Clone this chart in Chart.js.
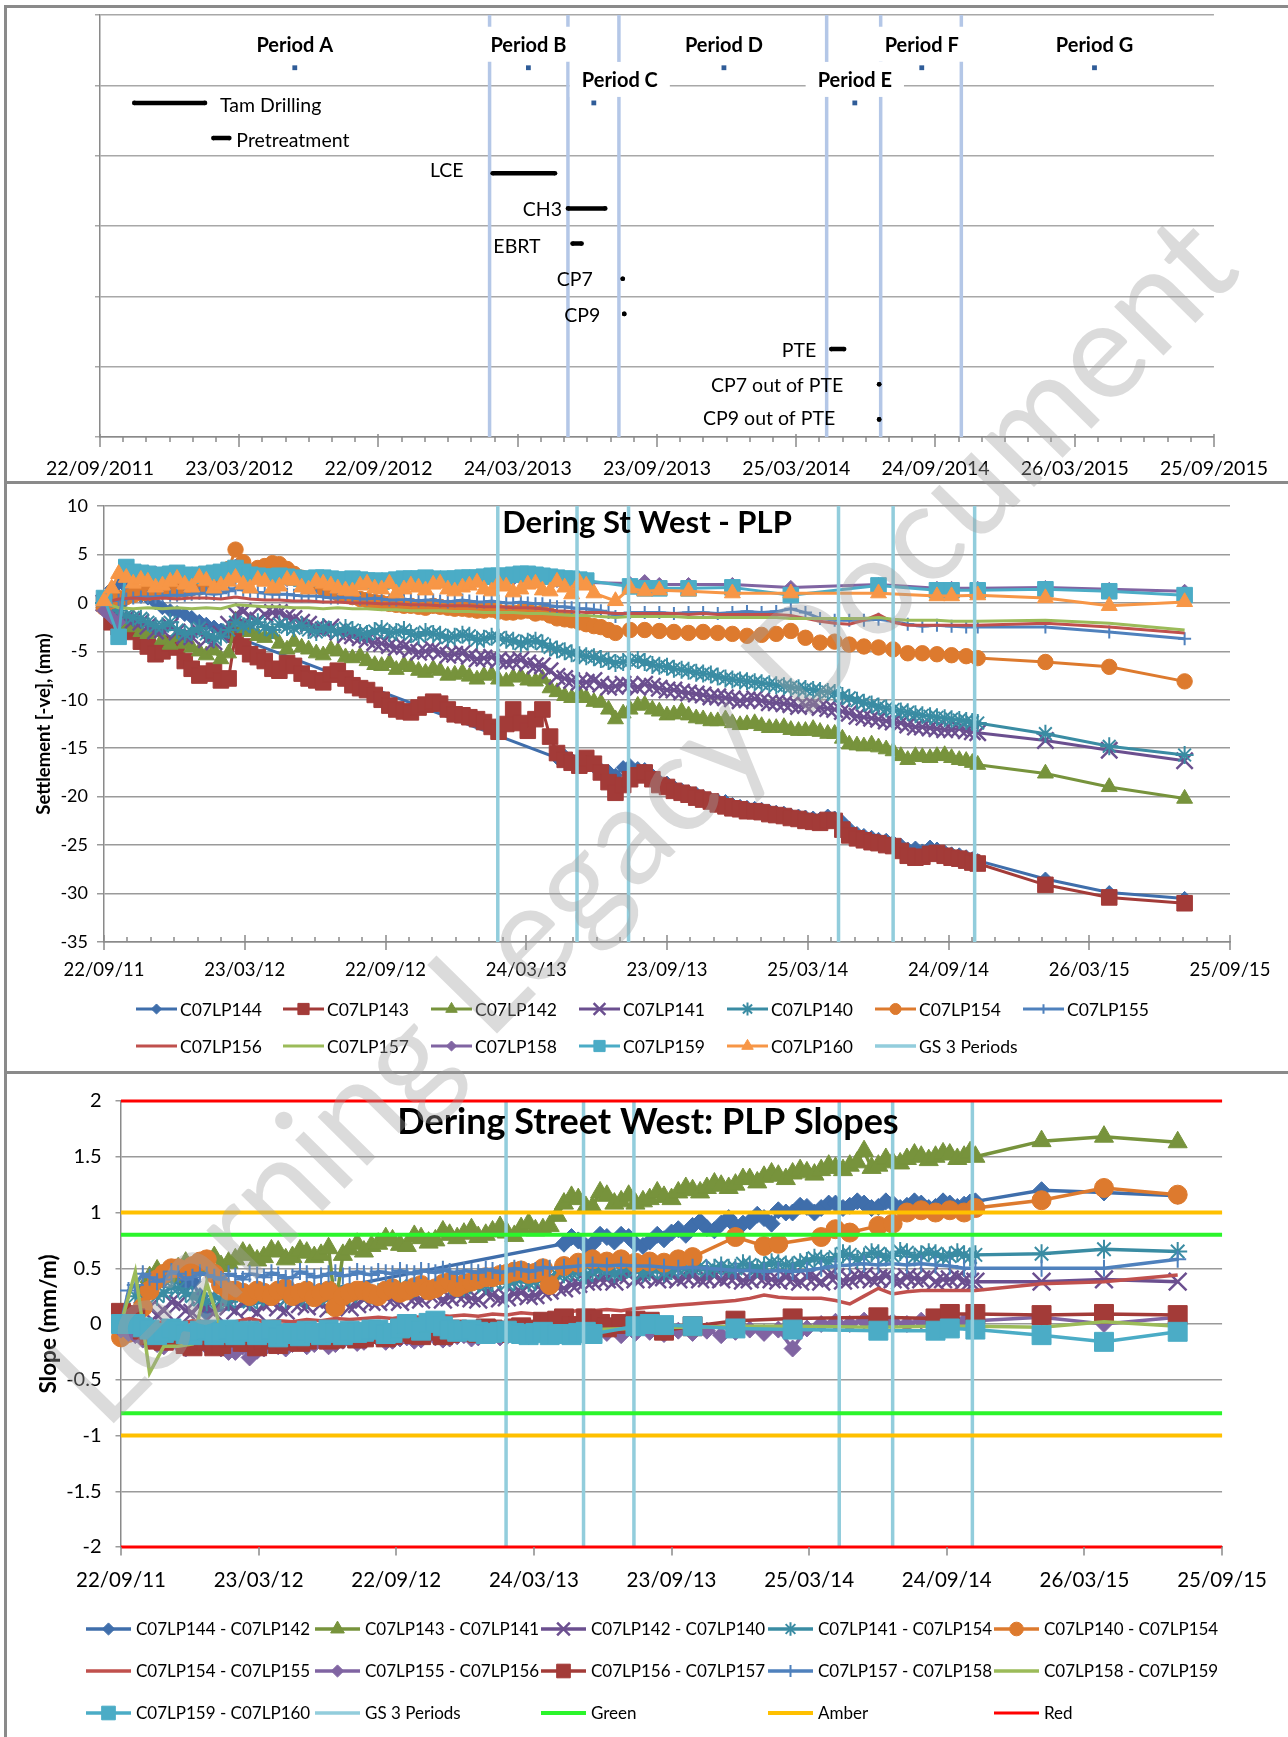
<!DOCTYPE html>
<html>
<head>
<meta charset="utf-8">
<title>Dering Street West - PLP</title>
<script src="https://cdn.jsdelivr.net/npm/chart.js@4.4.1/dist/chart.umd.min.js"></script>
<style>
  html, body { margin:0; padding:0; background:#fff; }
  body { position:relative; width:1288px; height:1737px; overflow:hidden; font-family:Lato, sans-serif; }
  canvas.chart { position:absolute; left:0; }
  .rule { position:absolute; background:#8a8a8a; z-index:2; }
  #wm { position:absolute; left:0; top:0; z-index:3; pointer-events:none; }
</style>
</head>
<body>
<canvas id="cTop" class="chart" width="1288" height="481" style="top:0px"></canvas>
<canvas id="cPlp" class="chart" width="1288" height="587" style="top:484px"></canvas>
<canvas id="cSlope" class="chart" width="1288" height="663" style="top:1074px"></canvas>
<div class="rule" style="left:4px;top:5px;width:1290px;height:3px"></div>
<div class="rule" style="left:4px;top:481px;width:1290px;height:3px"></div>
<div class="rule" style="left:4px;top:1071px;width:1290px;height:3px"></div>
<div class="rule" style="left:4px;top:5px;width:3px;height:1740px"></div>
<canvas id="wm" width="1288" height="1737"></canvas>
<script>
// ===================== DATA =====================
const AXIS_START = '2011-09-22';
const AXIS_SPAN_DAYS = 1464;
const MAJOR_STEP_DAYS = 183;

// ---- top panel: periods and activities ----
const periodNames = ['Period A','Period B','Period C','Period D','Period E','Period F','Period G'];
const periodDates = ['2012-06-04','2013-04-07','2013-07-02','2013-12-20','2014-06-10','2014-09-06','2015-04-21'];
const periodRows  = [10.5, 10.5, 9.5, 10.5, 9.5, 10.5, 10.5];

const activityNames = ['Tam Drilling','Pretreatment','LCE','CH3','EBRT','CP7','CP9','PTE','CP7 out of PTE','CP9 out of PTE'];
const activityStart = ['2011-11-06','2012-02-18','2013-02-19','2013-05-29','2013-06-04','2013-08-09','2013-08-11','2014-05-10','2014-07-12','2014-07-12'];
const activityEnd   = ['2012-02-07','2012-03-10','2013-05-12','2013-07-17','2013-06-16','2013-08-09','2013-08-11','2014-05-27','2014-07-12','2014-07-12'];
const activityRows  = [9.5, 8.5, 7.5, 6.5, 5.5, 4.5, 3.5, 2.5, 1.5, 0.5];

const gsPeriodDates = ['2013-02-15','2013-05-29','2013-08-04','2014-05-04','2014-07-14','2014-10-28'];

// ---- reading dates shared by the PLP and slope charts ----
const readingDates = [
 '2011-09-22','2011-10-11','2011-10-30','2011-11-18','2011-12-07','2011-12-26','2012-01-14','2012-02-02','2012-02-21','2012-03-11',
 '2012-03-30','2012-04-18','2012-05-07','2012-05-26','2012-06-14','2012-07-03','2012-07-22','2012-08-10','2012-08-29','2012-09-17',
 '2012-10-06','2012-10-25','2012-11-13','2012-12-02','2012-12-21','2013-01-09','2013-01-28','2013-02-16','2013-03-07','2013-03-26',
 '2013-04-14','2013-05-03','2013-05-22','2013-06-10','2013-06-29','2013-07-18','2013-08-06','2013-08-25','2013-09-13','2013-10-02',
 '2013-10-21','2013-11-09','2013-11-28','2013-12-17','2014-01-05','2014-01-24','2014-02-12','2014-03-03','2014-03-22','2014-04-10',
 '2014-04-29','2014-05-18','2014-06-06','2014-06-25','2014-07-14','2014-08-02','2014-08-21','2014-09-09','2014-09-28','2014-10-17',
 '2014-11-01','2015-01-28','2015-04-21','2015-07-28'
];
// intermediate readings (between the dates above) for the densely monitored points
const midReadingDates = [
 '2011-10-02','2011-10-21','2011-11-09','2011-11-28','2011-12-17','2012-01-05','2012-01-24','2012-02-12','2012-03-02','2012-03-21',
 '2012-04-09','2012-04-28','2012-05-17','2012-06-05','2012-06-24','2012-07-13','2012-08-01','2012-08-20','2012-09-08','2012-09-27',
 '2012-10-16','2012-11-04','2012-11-23','2012-12-12','2012-12-31','2013-01-19','2013-02-07','2013-02-26','2013-03-17','2013-04-05',
 '2013-04-24','2013-05-13','2013-06-01','2013-06-20','2013-07-09','2013-07-28','2013-08-16','2013-09-04','2013-09-23','2013-10-12',
 '2013-10-31','2013-11-19','2013-12-08','2013-12-27','2014-01-15','2014-02-03','2014-02-22','2014-03-13','2014-04-01','2014-04-20',
 '2014-05-09','2014-05-28','2014-06-16','2014-07-05','2014-07-24','2014-08-12','2014-08-31','2014-09-19','2014-10-08','2014-10-25'
];

// ---- settlement (mm) ----
const plpNames = ['C07LP144','C07LP143','C07LP142','C07LP141','C07LP140','C07LP154','C07LP155','C07LP156','C07LP157','C07LP158','C07LP159','C07LP160'];
const C07LP144 = [
 0,2.0,1.0,0.5,-0.5,-1.0,-1.5,-2.2,-2.8,-3.5,
 null,null,null,null,null,null,null,null,null,null,
 null,null,null,null,null,null,null,null,null,null,
 null,-16.0,-16.2,-16.4,-17.2,-17.8,-16.8,-17.2,-18.4,-19.0,
 -19.5,-20.0,-20.4,-20.8,-21.1,-21.3,-21.6,-21.9,-22.1,-22.3,
 -22.2,-23.3,-24.0,-24.4,-24.7,-25.4,-25.6,-25.4,-25.9,-26.2,
 -26.6,-28.5,-29.9,-30.5];
const C07LP144_mid = [
 1.5,1.6,0.7,0.0,-0.8,-1.2,-1.9,-2.5,-3.1,null,
 null,null,null,null,null,null,null,null,null,null,
 null,null,null,null,null,null,null,null,null,null,
 null,-15.8,-16.6,-16.9,-17.4,-17.0,-17.1,-17.8,-18.6,-19.3,
 -19.7,-20.3,-20.5,-21.0,-21.2,-21.5,-21.7,-22.0,-22.2,-22.0,
 -22.6,-23.8,-24.2,-24.5,-25.0,-25.3,-25.2,-25.7,-26.0,-26.4];
const C07LP143 = [
 0,-2.5,-3.0,-4.5,-5.0,-4.6,-6.8,-7.3,-8.0,-3.3,
 -5.3,-6.0,-7.0,-6.5,-7.8,-8.2,-7.0,-8.5,-9.0,-10.0,
 -11.0,-11.3,-10.5,-10.4,-11.5,-11.8,-12.3,-13.3,-11.0,-13.2,
 -11.0,-15.5,-16.5,-16.0,-17.5,-19.6,-18.2,-17.5,-18.8,-19.4,
 -19.8,-20.3,-20.8,-21.2,-21.5,-21.6,-21.9,-22.2,-22.5,-22.7,
 -22.5,-24.0,-24.5,-24.8,-25.1,-26.1,-26.2,-25.8,-26.3,-26.6,
 -26.9,-29.1,-30.4,-31.0];
const C07LP143_mid = [
 -2.0,-2.8,-4.0,-5.3,-4.2,-6.0,-7.5,-7.0,-7.8,-4.5,
 -5.6,-6.8,-6.2,-7.3,-8.0,-7.4,-7.8,-8.8,-9.5,-10.6,
 -11.2,-10.8,-10.2,-11.0,-11.6,-12.0,-12.8,-12.5,-12.4,-12.0,
 -13.8,-16.2,-16.8,-16.6,-18.5,-18.8,-17.8,-18.2,-19.0,-19.6,
 -20.1,-20.5,-21.0,-21.3,-21.5,-21.8,-22.0,-22.3,-22.6,-22.4,
 -23.4,-24.3,-24.7,-25.0,-25.6,-26.3,-25.9,-26.1,-26.4,-26.8];
const C07LP142 = [
 0,-1.5,-2.5,-3.2,-3.8,-3.5,-4.6,-5.4,-5.8,-1.8,
 -3.0,-3.6,-4.2,-4.0,-4.8,-5.4,-5.0,-5.7,-6.0,-6.5,
 -6.9,-6.6,-7.2,-7.0,-7.4,-7.6,-7.5,-7.9,-7.7,-8.0,
 -7.8,-9.2,-9.8,-9.8,-10.3,-12.0,-11.0,-10.5,-11.2,-11.5,
 -11.6,-12.0,-12.2,-12.4,-12.5,-12.7,-12.9,-13.1,-13.2,-13.3,
 -13.5,-14.6,-14.8,-14.9,-15.3,-16.2,-15.9,-15.8,-16.0,-16.3,
 -16.7,-17.6,-19.0,-20.2];
const C07LP142_mid = [
 -0.8,-2.2,-3.0,-3.0,-4.3,-4.2,-5.0,-4.9,-5.2,-2.6,
 -3.4,-3.2,-4.8,-4.6,-5.2,-4.8,-5.6,-5.5,-6.4,-6.2,
 -6.4,-7.0,-6.8,-7.5,-7.2,-7.9,-7.4,-8.1,-7.6,-8.1,
 -8.8,-9.6,-9.4,-10.2,-11.0,-11.4,-10.6,-11.0,-11.6,-11.2,
 -11.9,-12.2,-12.0,-12.6,-12.4,-12.9,-12.8,-13.2,-13.0,-13.5,
 -14.0,-14.7,-14.6,-15.1,-15.8,-15.8,-16.0,-15.7,-16.2,-16.5];
const C07LP141 = [
 0,-1.0,-1.8,-2.4,-2.8,-3.0,-3.5,-3.8,-3.2,-1.2,
 -1.4,-1.2,-1.0,-1.6,-2.2,-2.8,-3.0,-3.4,-3.8,-4.2,
 -4.6,-4.8,-5.0,-5.1,-5.3,-5.5,-5.7,-5.9,-6.0,-6.2,
 -6.5,-7.6,-8.0,-8.2,-8.4,-8.6,-8.5,-8.4,-8.8,-9.0,
 -9.3,-9.5,-9.7,-9.9,-10.0,-10.1,-10.3,-10.5,-10.6,-10.8,
 -11.0,-11.4,-11.8,-12.0,-12.3,-12.6,-12.8,-13.0,-13.1,-13.2,
 -13.4,-14.2,-15.2,-16.3];
const C07LP141_mid = [
 -0.6,-1.6,-2.0,-2.9,-2.4,-3.4,-3.0,-4.0,-2.2,-0.9,
 -1.8,-1.0,-1.4,-2.0,-2.6,-2.5,-3.3,-3.6,-4.1,-4.4,
 -4.5,-5.1,-4.8,-5.4,-5.2,-5.8,-5.6,-6.1,-5.9,-6.5,
 -7.0,-7.8,-8.2,-8.0,-8.7,-8.4,-8.7,-8.6,-9.0,-9.2,
 -9.4,-9.7,-9.8,-10.1,-9.9,-10.3,-10.4,-10.7,-10.5,-10.9,
 -11.2,-11.7,-11.9,-12.2,-12.4,-12.8,-12.9,-13.1,-13.0,-13.3];
const C07LP140 = [
 0,-0.8,-1.5,-2.0,-2.4,-2.8,-3.0,-3.2,-3.5,-2.0,
 -2.2,-2.5,-2.2,-2.6,-2.8,-2.5,-3.0,-2.8,-3.2,-2.7,
 -3.0,-3.2,-3.0,-3.3,-3.5,-3.4,-3.7,-3.6,-3.9,-4.0,
 -4.2,-4.8,-5.2,-5.5,-5.8,-6.2,-6.0,-6.1,-6.5,-6.8,
 -7.0,-7.3,-7.6,-7.9,-8.1,-8.3,-8.5,-8.7,-8.9,-9.1,
 -9.3,-9.8,-10.3,-10.7,-11.0,-11.3,-11.6,-11.8,-12.0,-12.2,
 -12.4,-13.5,-14.8,-15.7];
const C07LP140_mid = [
 -0.5,-1.3,-1.6,-2.4,-2.0,-3.2,-2.6,-3.6,-2.8,-2.4,
 -2.0,-2.8,-2.5,-2.3,-3.0,-2.8,-2.6,-3.1,-2.9,-3.1,
 -2.8,-3.4,-3.2,-3.6,-3.3,-3.8,-3.5,-3.8,-4.2,-3.9,
 -4.6,-5.0,-5.4,-5.6,-6.0,-6.1,-5.9,-6.4,-6.6,-6.9,
 -7.2,-7.4,-7.8,-8.0,-8.2,-8.4,-8.6,-8.8,-9.0,-9.2,
 -9.6,-10.1,-10.5,-10.9,-11.2,-11.5,-11.7,-11.9,-12.1,-12.3];
const C07LP154 = [
 -0.5,0.5,0.8,1.0,1.2,1.3,1.5,1.8,2.5,5.5,
 3.2,3.8,4.0,3.0,2.2,1.5,1.0,0.6,0.3,0.0,
 -0.2,-0.3,-0.5,-0.4,-0.6,-0.7,-0.8,-0.9,-1.0,-0.8,
 -1.0,-1.6,-1.8,-2.2,-2.5,-3.1,-2.8,-2.8,-2.9,-3.0,
 -3.1,-3.0,-3.1,-3.2,-3.4,-3.3,-3.2,-2.9,-3.6,-4.1,
 -4.0,-4.3,-4.5,-4.6,-4.8,-5.2,-5.2,-5.3,-5.4,-5.5,
 -5.7,-6.1,-6.6,-8.1];
const C07LP154_mid = [
 0.2,0.6,1.0,1.1,1.2,1.4,1.6,2.0,3.5,4.2,
 3.6,4.1,3.5,2.6,1.8,1.2,0.8,0.4,0.1,-0.1,
 -0.3,-0.4,-0.3,-0.5,-0.6,-0.8,-0.7,-1.0,-0.9,-1.1,
 -1.3,-1.7,-2.0,-2.4,-2.8];
const C07LP155 = [
 0,0.3,0.5,0.6,0.7,0.8,0.9,1.0,1.0,1.5,
 1.2,1.0,0.9,0.8,0.7,0.6,0.5,0.5,0.4,0.4,
 0.3,0.3,0.3,0.2,0.2,0.2,0.1,0.1,0.0,0.0,
 -0.1,-0.4,-0.5,-0.6,-0.8,-1.4,-1.0,-1.0,-1.0,-1.1,
 -1.0,-1.0,-1.1,-1.0,-0.9,-1.0,-0.9,-0.6,-1.0,-1.6,
 -1.8,-1.8,-1.8,-1.7,-1.9,-2.2,-2.4,-2.3,-2.4,-2.5,
 -2.5,-2.5,-3.0,-3.7];
const C07LP155_mid = [
 0.2,0.4,0.6,0.6,0.8,0.8,1.0,0.9,1.2,1.3,
 1.1,0.9,0.9,0.7,0.7,0.5,0.6,0.4,0.5,0.3,
 0.4,0.2,0.3,0.1,0.3,0.1,0.2,0.0,0.1,-0.1,
 -0.3,-0.4,-0.6,-0.7,-1.0];
const C07LP156 = [
 0,0.4,0.5,0.4,0.5,0.4,0.5,0.5,0.4,0.6,
 0.4,0.3,0.3,0.2,0.2,0.1,0.1,0.0,0.0,-0.1,
 -0.1,-0.2,-0.2,-0.3,-0.3,-0.3,-0.4,-0.4,-0.5,-0.5,
 -0.6,-0.8,-0.9,-1.0,-1.0,-1.1,-1.1,-1.1,-1.1,-1.1,
 -1.2,-1.1,-1.2,-1.2,-1.2,-1.2,-1.2,-1.3,-1.6,-1.9,
 -2.1,-2.2,-1.8,-1.2,-2.0,-2.3,-2.3,-2.3,-2.3,-2.3,
 -2.3,-2.1,-2.5,-3.1];
const C07LP157 = [
 0,-0.5,-0.6,-0.5,-0.6,-0.5,-0.6,-0.5,-0.6,-0.2,
 -0.3,-0.4,-0.4,-0.5,-0.5,-0.6,-0.5,-0.6,-0.6,-0.7,
 -0.7,-0.8,-0.8,-0.8,-0.9,-0.9,-1.0,-1.0,-1.0,-1.1,
 -1.1,-1.2,-1.3,-1.3,-1.4,-1.5,-1.4,-1.4,-1.4,-1.4,
 -1.5,-1.5,-1.5,-1.5,-1.5,-1.5,-1.5,-1.6,-1.6,-1.6,
 -1.6,-1.6,-1.6,-1.5,-1.7,-1.8,-1.8,-1.8,-1.9,-1.9,
 -1.9,-1.8,-2.1,-2.8];
const C07LP158 = [
 -0.8,-2.0,3.0,3.2,3.0,2.8,2.6,2.8,2.9,3.8,
 2.8,2.6,2.5,2.4,2.3,2.3,2.2,2.2,2.1,2.2,
 2.2,2.3,2.3,2.4,2.4,2.5,2.5,2.4,2.5,2.6,
 2.5,2.3,2.2,2.1,null,null,2.0,2.2,1.9,null,
 1.9,null,null,1.9,null,null,null,1.6,null,null,
 null,null,null,1.9,null,null,null,1.5,1.5,null,
 1.5,1.6,1.4,1.2];
const C07LP158_mid = [
 -1.5,2.8,3.1,3.1,2.9,2.7,2.7,2.9,3.3,3.2,
 2.7,2.6,2.4,2.4,2.3,2.2,2.2,2.1,2.2,2.2,
 2.3,2.3,2.4,2.4,2.5,2.5,2.4,2.5,2.6,2.5,
 2.4,2.2,2.1];
const C07LP159 = [
 0.5,-3.5,3.2,3.0,2.9,3.1,2.8,3.0,3.2,3.6,
 2.9,2.7,2.8,2.6,2.5,2.6,2.4,2.5,2.3,2.2,
 2.4,2.5,2.6,2.4,2.5,2.6,2.7,2.8,2.9,3.0,
 2.8,2.6,2.5,2.3,null,null,1.7,1.5,1.5,null,
 1.5,null,null,1.6,null,null,null,0.8,null,null,
 null,null,null,1.8,null,null,null,1.3,1.3,null,
 1.3,1.4,1.2,0.8];
const C07LP159_mid = [
 null,3.7,3.1,2.8,3.0,2.9,2.9,3.1,3.4,3.2,
 2.8,2.7,2.7,2.5,2.6,2.5,2.4,2.4,2.3,2.3,
 2.5,2.5,2.5,2.5,2.6,2.6,2.8,2.8,3.0,2.9,
 2.7,2.5,2.4];
const C07LP160 = [
 0.2,3.0,2.0,2.2,1.8,2.5,1.6,2.3,1.8,2.6,
 1.5,2.2,1.7,2.3,1.4,2.0,1.5,1.2,2.0,1.4,
 1.0,1.8,1.3,2.0,1.2,1.8,1.4,2.0,1.1,1.9,
 1.3,2.2,0.9,1.8,null,0.2,1.5,1.2,1.3,null,
 1.2,null,null,1.0,null,null,null,1.0,null,null,
 null,null,null,1.0,null,null,null,0.7,0.7,null,
 0.8,0.5,-0.3,0.1];
const C07LP160_mid = [
 1.5,2.6,2.4,1.6,2.2,1.9,2.6,1.5,2.2,1.9,
 2.4,1.5,2.4,1.6,2.2,1.8,1.3,1.8,1.5,2.0,
 1.4,1.6,1.9,1.4,1.6,2.1,1.2,1.7,1.4,2.0,
 1.2,1.6,2.1,1.0];

// ---- slopes (mm/m) ----
const slopeNames = ['C07LP144 - C07LP142','C07LP143 - C07LP141','C07LP142 - C07LP140','C07LP141 - C07LP154','C07LP140 - C07LP154','C07LP154 - C07LP155','C07LP155 - C07LP156','C07LP156 - C07LP157','C07LP157 - C07LP158','C07LP158 - C07LP159','C07LP159 - C07LP160'];
const slope144_142 = [
 null,null,0.35,0.4,0.42,0.38,0.1,null,null,null,
 null,null,null,null,null,null,null,null,null,null,
 null,null,null,null,null,null,null,null,null,null,
 null,0.72,0.75,0.72,0.78,0.8,0.72,0.74,0.76,0.85,
 0.88,0.86,0.9,0.88,0.92,0.95,1.02,1.0,1.05,1.04,
 1.08,1.06,1.08,1.05,1.08,1.06,1.08,1.05,1.08,1.07,
 1.1,1.2,1.18,1.15];
const slope144_142_mid = [
 null,0.3,0.38,0.44,0.36,0.25,null,null,null,null,
 null,null,null,null,null,null,null,null,null,null,
 null,null,null,null,null,null,null,null,null,null,
 null,0.78,0.7,0.8,0.74,0.78,0.7,0.8,0.82,0.8,
 0.92,0.84,0.95,0.9,0.98,0.9,1.0,1.06,1.0,1.08,
 1.04,1.1,1.04,1.1,1.04,1.1,1.04,1.1,1.05,1.09];
const slope143_141 = [
 null,null,0.42,0.45,0.5,0.48,0.55,0.52,0.58,0.62,
 0.6,0.65,0.6,0.64,0.62,0.15,0.67,0.65,0.72,0.75,
 0.7,0.77,0.75,0.8,0.81,0.78,0.83,0.82,0.86,0.84,
 0.88,1.08,1.12,1.05,1.15,1.1,1.08,1.12,1.14,1.18,
 1.2,1.22,1.24,1.25,1.3,1.32,1.33,1.35,1.36,1.38,
 1.4,1.42,1.55,1.42,1.45,1.48,1.5,1.5,1.52,1.5,
 1.5,1.64,1.68,1.63];
const slope143_141_mid = [
 null,null,0.48,0.42,0.55,0.5,0.6,0.55,0.64,0.57,
 0.66,0.58,0.66,0.6,0.68,0.62,0.72,0.7,0.77,0.71,
 0.79,0.73,0.83,0.77,0.85,0.8,0.87,0.79,0.9,0.85,
 0.97,1.14,1.05,1.18,1.08,1.15,1.1,1.18,1.12,1.22,
 1.18,1.26,1.22,1.3,1.27,1.35,1.3,1.38,1.34,1.42,
 1.38,1.45,1.4,1.48,1.44,1.52,1.47,1.53,1.48,1.54];
const slope142_140 = [
 null,0.1,0.15,0.12,0.18,0.1,0.15,0.2,0.12,0.15,
 0.18,0.15,0.2,0.16,0.18,0.2,0.15,0.22,0.2,0.22,
 0.25,0.22,0.26,0.24,0.25,0.22,0.26,0.24,0.28,0.26,
 0.3,0.32,0.36,0.38,0.4,0.42,0.4,0.44,0.42,0.4,
 0.43,0.41,0.4,0.42,0.4,0.41,0.39,0.4,0.42,0.38,
 0.42,0.4,0.43,0.41,0.4,0.42,0.4,0.38,0.4,0.39,
 0.38,0.38,0.4,0.38];
const slope142_140_mid = [
 null,0.12,0.08,0.2,0.12,0.18,0.1,0.16,0.2,0.1,
 0.2,0.12,0.18,0.22,0.14,0.22,0.18,0.2,0.24,0.2,
 0.23,0.27,0.22,0.26,0.23,0.28,0.23,0.27,0.25,0.29,
 0.33,0.35,0.38,0.4,0.38,0.44,0.42,0.4,0.44,0.42,
 0.4,0.43,0.42,0.39,0.43,0.4,0.42,0.38,0.41,0.43,
 0.39,0.42,0.4,0.43,0.39,0.41,0.43,0.4,0.42,0.38];
const slope141_154 = [
 null,0.25,0.3,0.28,0.32,0.25,0.2,0.22,0.25,0.2,
 0.25,0.28,0.25,0.22,0.26,0.28,0.25,0.3,0.28,0.32,
 0.3,0.34,0.32,0.35,0.33,0.36,0.38,0.36,0.4,0.38,
 0.42,0.45,0.47,0.46,0.48,0.47,0.48,0.47,0.46,0.49,
 0.5,0.48,0.52,0.5,0.53,0.52,0.54,0.52,0.56,0.58,
 0.6,0.62,0.6,0.63,0.61,0.64,0.62,0.63,0.61,0.62,
 0.62,0.63,0.67,0.65];
const slope141_154_mid = [
 null,0.28,0.25,0.33,0.28,0.22,0.25,0.2,0.28,0.22,
 0.27,0.22,0.27,0.25,0.23,0.27,0.29,0.26,0.3,0.34,
 0.32,0.3,0.36,0.32,0.37,0.35,0.4,0.38,0.37,0.41,
 0.44,0.46,0.44,0.49,0.45,0.5,0.46,0.49,0.48,0.5,
 0.52,0.5,0.5,0.54,0.5,0.55,0.53,0.55,0.59,0.56,
 0.63,0.58,0.64,0.6,0.65,0.6,0.64,0.6,0.64,0.6];
const slope140_154 = [
 -0.12,-0.05,0.3,0.45,0.5,0.52,0.58,0.35,0.3,0.25,
 0.28,0.3,0.25,0.3,0.28,0.15,0.28,0.3,0.25,0.32,
 0.3,0.35,0.32,0.38,0.36,0.4,0.42,0.45,0.48,0.46,
 0.35,0.52,0.55,0.58,0.56,0.58,0.55,0.56,0.55,0.58,
 0.6,null,null,0.78,null,0.7,0.72,null,null,0.78,
 0.85,0.82,null,0.88,0.9,1.0,1.02,1.0,1.02,1.0,
 1.04,1.11,1.22,1.16];
const slope140_154_mid = [
 -0.08,0.15,0.4,0.5,0.48,0.56,0.45,0.3,0.28,0.3,
 0.25,0.32,0.28,0.24,0.3,0.25,0.3,0.27,0.3,0.28,
 0.33,0.3,0.36,0.33,0.38,0.42,0.44,0.47,0.45,0.5];
const slope154_155 = [
 0.1,0.05,0.0,0.02,0.0,0.03,0.02,0.0,0.02,0.05,
 0.02,0.03,0.02,0.04,0.03,0.05,0.04,0.05,0.06,0.05,
 0.07,0.06,0.08,0.07,0.08,0.07,0.09,0.08,0.1,0.09,
 0.08,0.1,0.12,0.12,0.13,0.12,0.14,0.15,0.16,0.17,
 0.18,0.19,0.2,0.21,0.23,0.26,0.24,0.23,0.23,0.23,
 0.21,0.18,0.25,0.32,0.27,0.29,0.3,0.3,0.3,0.3,
 0.3,0.36,0.38,0.44];
const slope155_156 = [
 -0.05,-0.1,-0.15,-0.2,-0.18,-0.15,-0.2,-0.22,-0.25,-0.3,
 -0.22,-0.2,-0.18,-0.2,-0.15,-0.18,-0.14,-0.16,-0.13,-0.15,
 -0.12,-0.14,-0.12,-0.13,-0.1,-0.12,-0.1,-0.11,-0.09,-0.1,
 -0.08,-0.1,-0.09,-0.1,-0.08,-0.1,-0.08,-0.07,-0.09,-0.06,
 -0.08,-0.06,-0.1,-0.07,-0.05,-0.08,-0.05,-0.22,-0.04,0.0,
 0.02,0.0,0.03,0.01,0.02,0.0,0.03,0.02,0.03,0.02,
 0.03,0.06,0.0,0.06];
const slope155_156_mid = [
 -0.08,-0.14,-0.18,-0.15,-0.22,-0.18,-0.16,-0.25,-0.2,-0.24,
 -0.19,-0.22,-0.16,-0.18,-0.2,-0.15,-0.17,-0.12,-0.16,-0.13,
 -0.15,-0.1,-0.14,-0.11,-0.13,-0.09,-0.12,-0.08,-0.11,-0.08];
const slope156_157 = [
 0.1,0.05,-0.1,-0.15,-0.12,-0.2,-0.15,-0.18,-0.12,-0.16,
 -0.14,-0.18,-0.12,-0.14,-0.1,-0.13,-0.1,-0.12,-0.08,-0.1,
 -0.07,-0.1,-0.05,-0.08,-0.06,-0.08,-0.05,-0.06,-0.03,-0.05,
 0.0,0.05,-0.02,0.04,-0.03,0.0,0.03,0.02,-0.06,null,
 -0.02,null,null,0.03,null,null,null,0.05,null,null,
 null,null,null,0.06,null,null,null,0.05,0.09,null,
 0.09,0.08,0.09,0.08];
const slope156_157_mid = [
 0.08,-0.05,-0.14,-0.1,-0.18,-0.14,-0.2,-0.12,-0.16,-0.2,
 -0.12,-0.15,-0.16,-0.1,-0.14,-0.09,-0.13,-0.09,-0.12,-0.06,
 -0.09,-0.06,-0.1,-0.05,-0.07,-0.04,-0.08,-0.04,-0.06,0.02,
 0.03,-0.02,0.05,0.0];
const slope157_158 = [
 0.0,0.35,0.42,0.4,0.45,0.42,0.44,0.4,0.43,0.45,
 0.42,0.44,0.42,0.45,0.43,0.46,0.44,0.45,0.47,0.45,
 0.46,0.48,0.46,0.47,0.48,0.46,0.48,0.47,0.49,0.48,
 0.5,0.51,0.52,0.53,0.52,0.53,0.52,0.52,0.51,0.5,
 0.51,0.5,0.49,0.48,0.48,0.47,0.48,0.47,0.48,0.5,
 0.52,0.53,0.54,0.53,0.54,0.53,0.54,0.53,0.52,0.5,
 0.5,0.5,0.5,0.58];
const slope157_158_mid = [
 0.3,0.45,0.38,0.47,0.4,0.46,0.42,0.45,0.4,0.44,
 0.46,0.41,0.47,0.42,0.45,0.43,0.47,0.44,0.46,0.48,
 0.45,0.47,0.49,0.45,0.47,0.49,0.46,0.5,0.47,0.51];
const slope158_159 = [
 0.0,0.47,-0.44,-0.2,-0.2,-0.18,0.37,-0.05,-0.08,-0.06,
 -0.07,-0.08,-0.06,-0.07,-0.06,-0.08,-0.06,-0.07,-0.06,-0.05,
 -0.06,-0.05,-0.04,-0.05,-0.06,-0.05,-0.06,-0.05,-0.06,-0.05,
 -0.06,-0.06,-0.05,-0.05,null,null,-0.04,-0.03,-0.03,null,
 -0.03,null,null,-0.02,null,null,null,-0.02,null,null,
 null,null,null,-0.03,null,null,null,-0.02,-0.02,null,
 -0.02,-0.03,0.02,-0.02];
const slope159_160 = [
 0.0,0.0,-0.05,-0.08,-0.06,-0.1,-0.05,-0.08,-0.1,-0.06,
 -0.08,-0.12,-0.08,-0.06,-0.1,-0.08,-0.06,-0.07,-0.05,-0.08,
 0.0,-0.06,0.03,-0.05,-0.06,-0.07,-0.08,-0.06,-0.09,-0.08,
 -0.1,-0.09,-0.08,-0.09,null,null,-0.02,0.0,-0.01,null,
 -0.02,null,null,-0.04,null,null,null,-0.05,null,null,
 null,null,null,-0.06,null,null,null,-0.06,-0.04,null,
 -0.05,-0.1,-0.16,-0.07];
const slope159_160_mid = [
 0.0,-0.03,-0.1,-0.04,-0.09,-0.06,-0.1,-0.05,-0.07,-0.1,
 -0.05,-0.09,-0.11,-0.08,-0.05,-0.1,-0.08,-0.05,-0.09,-0.04,
 -0.03,0.01,-0.02,-0.07,-0.05,-0.09,-0.07,-0.08,-0.1,-0.07,
 -0.09,-0.1,-0.07];

const greenLimit = 0.8;
const amberLimit = 1.0;
const redLimit = 2.0;

// ===================== STYLE =====================
const FONT = 'Lato, "Liberation Sans", sans-serif';
Chart.defaults.font.family = FONT;
Chart.defaults.color = '#000';
const GRID = '#9a9a9a', AXIS = '#8a8a8a';

const plpStyles = [
 {c:'#3F6EAB', s:'rectRot', r:7,    bw:1},
 {c:'#A33B38', s:'rect',    r:11,   bw:1},
 {c:'#77933C', s:'triangle',r:9.2,  bw:1},
 {c:'#6B4F8F', s:'crossRot',r:11.5, bw:2.5},
 {c:'#3A8CA3', s:'star',    r:9,    bw:2},
 {c:'#DD7A2E', s:'circle',  r:7.7,  bw:1},
 {c:'#4F81BD', s:'cross',   r:6.5,  bw:2},
 {c:'#C0504D', s:null},
 {c:'#9BBB59', s:null},
 {c:'#8064A2', s:'rectRot', r:7,    bw:1},
 {c:'#4BACC6', s:'rect',    r:11,   bw:1},
 {c:'#F79646', s:'triangle',r:9.2,  bw:1}
];
const slopeStyles = [
 {c:'#3F6EAB', s:'rectRot', r:8.5,  bw:1},
 {c:'#77933C', s:'triangle',r:11,   bw:1},
 {c:'#6B4F8F', s:'crossRot',r:12.5, bw:2.5},
 {c:'#3A8CA3', s:'star',    r:9.5,  bw:2},
 {c:'#DD7A2E', s:'circle',  r:9.5,  bw:1},
 {c:'#C0504D', s:null},
 {c:'#8064A2', s:'rectRot', r:8.5,  bw:1},
 {c:'#A33B38', s:'rect',    r:13.4, bw:1},
 {c:'#4F81BD', s:'cross',   r:8.5,  bw:2},
 {c:'#9BBB59', s:null},
 {c:'#4BACC6', s:'rect',    r:13.4, bw:1}
];
const periodLabelDx = [0, 0, 26, 0, 0, 0, 0];
const activityLabelSide = ['right','right','left','left','left','left','left','left','left','left'];
const activityLabelGap  = [15, 7, 29, 6, 32, 30, 24, 15, 36, 44];
const activityLabelDy   = [2, 2, -3, 1, 2, 0, 1, 1, 1, -1];

// ===================== HELPERS =====================
const DAY = 86400000;
const T0 = Date.parse(AXIS_START);
const dayOf = s => (Date.parse(s) - T0) / DAY;
function fmtDate(v, longYear) {
  const d = new Date(T0 + Math.round(v) * DAY);
  const dd = String(d.getUTCDate()).padStart(2, '0');
  const mm = String(d.getUTCMonth() + 1).padStart(2, '0');
  const yy = longYear ? String(d.getUTCFullYear()) : String(d.getUTCFullYear()).slice(2);
  return dd + '/' + mm + '/' + yy;
}
function verticalLines(dates, yTop, yBottom) {
  const pts = [];
  dates.forEach(d => { const x = dayOf(d); pts.push({x, y:yTop}, {x, y:yBottom}, {x, y:null}); });
  return pts;
}
function limitLines(v) {
  return [{x:0, y:v}, {x:AXIS_SPAN_DAYS, y:v}, {x:AXIS_SPAN_DAYS, y:null}, {x:0, y:-v}, {x:AXIS_SPAN_DAYS, y:-v}];
}
function seriesDataset(label, values, mids, st, lineWidth) {
  const pts = readingDates.map((d, i) => ({x: dayOf(d), y: values[i] ?? null}));
  if (mids) midReadingDates.forEach((d, i) => pts.push({x: dayOf(d), y: mids[i] ?? null}));
  pts.sort((a, b) => a.x - b.x);
  return {
    label, data: pts,
    borderColor: st.c, backgroundColor: st.c, pointBackgroundColor: st.c, pointBorderColor: st.c,
    borderWidth: lineWidth, pointStyle: st.s || 'circle', pointRadius: st.s ? st.r : 0,
    pointBorderWidth: st.s ? st.bw : 0, spanGaps: true, tension: 0, clip: false
  };
}
function plainLine(label, data, color, width) {
  return { label, data, borderColor: color, backgroundColor: color, borderWidth: width,
           pointRadius: 0, spanGaps: false, tension: 0, clip: false };
}
function withOrder(list) { list.forEach((d, i) => d.order = -i); return list; }

function xTickMarks(o) {
  return { id: 'xTickMarks', afterDatasetsDraw(chart) {
    const {ctx, chartArea: a, scales: {x}} = chart;
    ctx.save(); ctx.strokeStyle = AXIS; ctx.lineWidth = 1.5; ctx.beginPath();
    const n = AXIS_SPAN_DAYS / MAJOR_STEP_DAYS * o.minor;
    for (let k = 0; k <= n; k++) {
      const px = Math.round(x.getPixelForValue(k * MAJOR_STEP_DAYS / o.minor));
      if (k % o.minor === 0) { ctx.moveTo(px, a.bottom - o.majorUp); ctx.lineTo(px, a.bottom + o.majorDown); }
      else { ctx.moveTo(px, a.bottom - o.minorUp); ctx.lineTo(px, a.bottom + o.minorDown); }
    }
    ctx.stroke(); ctx.restore();
  }};
}
function texts(items) {
  return { id: 'texts', afterDraw(chart) {
    const ctx = chart.ctx;
    items.forEach(t => {
      ctx.save(); ctx.font = t.font; ctx.fillStyle = '#000'; ctx.textAlign = 'center'; ctx.textBaseline = 'alphabetic';
      ctx.translate(t.x, t.y); if (t.rot) ctx.rotate(t.rot); ctx.fillText(t.text, 0, 0); ctx.restore();
    });
  }};
}
function seriesLegend(o) {
  return { id: 'seriesLegend', afterDraw(chart) {
    const ctx = chart.ctx; ctx.save();
    ctx.font = o.font; ctx.textBaseline = 'middle'; ctx.textAlign = 'left';
    chart.data.datasets.forEach((ds, i) => {
      const col = i % o.cols.length, row = Math.floor(i / o.cols.length);
      const x0 = o.cols[col], y = o.rows[row];
      ctx.strokeStyle = ds.borderColor; ctx.lineWidth = ds.borderWidth; ctx.lineCap = 'butt';
      ctx.beginPath(); ctx.moveTo(x0, y); ctx.lineTo(x0 + o.lineLen, y); ctx.stroke();
      if (ds.pointRadius > 0) {
        ctx.fillStyle = ds.pointBackgroundColor; ctx.strokeStyle = ds.pointBorderColor; ctx.lineWidth = ds.pointBorderWidth;
        Chart.helpers.drawPoint(ctx, {pointStyle: ds.pointStyle, radius: ds.pointRadius * o.markerScale,
          borderWidth: ds.pointBorderWidth, rotation: 0}, x0 + o.lineLen / 2, y);
      }
      ctx.fillStyle = '#000'; ctx.fillText(ds.label, x0 + o.lineLen + o.gap, y + 1);
    });
    ctx.restore();
  }};
}
const topLabels = { id: 'topLabels', afterDatasetsDraw(chart) {
  const {ctx, scales: {x, y}} = chart;
  ctx.save(); ctx.textBaseline = 'alphabetic';
  const pf = 20;
  ctx.font = 'bold ' + pf + 'px ' + FONT;
  periodNames.forEach((name, i) => {
    const cx = x.getPixelForValue(dayOf(periodDates[i])) + periodLabelDx[i];
    const cy = y.getPixelForValue(periodRows[i]) - 23;
    const w = ctx.measureText(name).width;
    ctx.fillStyle = '#fff'; ctx.fillRect(cx - w / 2 - 12, cy - 18, w + 24, 35);
    ctx.fillStyle = '#000'; ctx.textAlign = 'center'; ctx.fillText(name, cx, cy + 0.358 * pf);
  });
  const af = 19.5;
  ctx.font = af + 'px ' + FONT;
  activityNames.forEach((name, i) => {
    const cy = y.getPixelForValue(activityRows[i]) + activityLabelDy[i];
    ctx.fillStyle = '#000';
    if (activityLabelSide[i] === 'right') {
      ctx.textAlign = 'left';
      ctx.fillText(name, x.getPixelForValue(dayOf(activityEnd[i])) + activityLabelGap[i], cy + 0.358 * af);
    } else {
      ctx.textAlign = 'right';
      ctx.fillText(name, x.getPixelForValue(dayOf(activityStart[i])) - activityLabelGap[i], cy + 0.358 * af);
    }
  });
  ctx.restore();
}};
const baseOpts = { responsive: false, animation: false, devicePixelRatio: 1, events: [],
  plugins: { legend: { display: false }, tooltip: { enabled: false }, title: { display: false } } };
function xAxis(height, fontSize, pad, longYear) {
  return { type: 'linear', min: 0, max: AXIS_SPAN_DAYS,
    afterFit(s) { s.height = height; },
    ticks: { stepSize: MAJOR_STEP_DAYS, autoSkip: false, maxRotation: 0, minRotation: 0, padding: pad,
             font: { size: fontSize }, color: '#000', callback: v => fmtDate(v, longYear) },
    grid: { display: false, drawTicks: false },
    border: { display: true, color: AXIS, width: 1.5 } };
}

// ===================== TOP: periods & activities =====================
const TOP_MIN = 0, TOP_MAX = 12;
const ganttPts = [];
activityNames.forEach((n, i) => {
  ganttPts.push({x: dayOf(activityStart[i]), y: activityRows[i]}, {x: dayOf(activityEnd[i]), y: activityRows[i]}, {x: dayOf(activityEnd[i]), y: null});
});
new Chart(document.getElementById('cTop'), {
  type: 'line',
  data: { datasets: withOrder([
    plainLine('GS 3 Periods', verticalLines(gsPeriodDates, TOP_MAX, TOP_MIN), '#B4C7E7', 3.5),
    { label: 'Activities', data: ganttPts, borderColor: '#000', backgroundColor: '#000', borderWidth: 4.5,
      pointRadius: 2.3, pointBorderWidth: 0, pointBackgroundColor: '#000', spanGaps: false, clip: false, borderCapStyle: 'butt' },
    { label: 'Periods', data: periodDates.map((d, i) => ({x: dayOf(d), y: periodRows[i]})), showLine: false,
      pointStyle: 'rect', pointRadius: 3.4, pointBackgroundColor: '#2F5C98', pointBorderColor: '#2F5C98', pointBorderWidth: 0, clip: false }
  ]) },
  options: Object.assign({}, baseOpts, {
    layout: { padding: { left: 0, right: 64, top: 15, bottom: 0 } },
    scales: {
      x: xAxis(44, 19.5, 20, true),
      y: { min: TOP_MIN, max: TOP_MAX, afterFit(s) { s.width = 100; },
           ticks: { stepSize: 2, display: false },
           grid: { color: '#a8a8a8', lineWidth: 1.5, drawTicks: true, tickLength: 5 },
           border: { color: AXIS, width: 1.5 } }
    }
  }),
  plugins: [xTickMarks({minor: 6, majorUp: 3, majorDown: 10, minorUp: 0, minorDown: 5}), topLabels]
});

// ===================== MIDDLE: settlement =====================
const PLP_MIN = -35, PLP_MAX = 10;
const plpValues = [C07LP144, C07LP143, C07LP142, C07LP141, C07LP140, C07LP154, C07LP155, C07LP156, C07LP157, C07LP158, C07LP159, C07LP160];
const plpMids = [C07LP144_mid, C07LP143_mid, C07LP142_mid, C07LP141_mid, C07LP140_mid, C07LP154_mid, C07LP155_mid, null, null, C07LP158_mid, C07LP159_mid, C07LP160_mid];
const plpSets = plpNames.map((n, i) => seriesDataset(n, plpValues[i], plpMids[i], plpStyles[i], 3));
plpSets.push(plainLine('GS 3 Periods', verticalLines(gsPeriodDates, PLP_MAX, PLP_MIN), '#92CDDC', 3.5));
new Chart(document.getElementById('cPlp'), {
  type: 'line',
  data: { datasets: withOrder(plpSets) },
  options: Object.assign({}, baseOpts, {
    layout: { padding: { left: 0, right: 58, top: 22, bottom: 0 } },
    scales: {
      x: xAxis(129, 18.5, 17, false),
      y: { min: PLP_MIN, max: PLP_MAX, afterFit(s) { s.width = 104; },
           ticks: { stepSize: 5, padding: 9, font: { size: 18 }, color: '#000' },
           grid: { color: GRID, lineWidth: 1.5, drawTicks: true, tickLength: 7 },
           border: { color: AXIS, width: 1.5 } }
    }
  }),
  plugins: [
    xTickMarks({minor: 6, majorUp: 7, majorDown: 8, minorUp: 5, minorDown: 0}),
    texts([
      { text: 'Dering St West - PLP', x: 647, y: 49, font: 'bold 31px ' + FONT },
      { text: 'Settlement [-ve], (mm)', x: 50, y: 240, rot: -Math.PI / 2, font: 'bold 18.5px ' + FONT }
    ]),
    seriesLegend({ cols: [136, 283, 431, 579, 727, 875, 1023], rows: [525, 562], lineLen: 41, gap: 3,
                   markerScale: 0.72, font: '17.5px ' + FONT })
  ]
});

// ===================== BOTTOM: slopes =====================
const SLOPE_MIN = -2, SLOPE_MAX = 2;
const slopeValues = [slope144_142, slope143_141, slope142_140, slope141_154, slope140_154, slope154_155, slope155_156, slope156_157, slope157_158, slope158_159, slope159_160];
const slopeMids = [slope144_142_mid, slope143_141_mid, slope142_140_mid, slope141_154_mid, slope140_154_mid, null, slope155_156_mid, slope156_157_mid, slope157_158_mid, null, slope159_160_mid];
const slopeSets = slopeNames.map((n, i) => seriesDataset(n, slopeValues[i], slopeMids[i], slopeStyles[i], 3.5));
slopeSets.push(plainLine('GS 3 Periods', verticalLines(gsPeriodDates, SLOPE_MAX, SLOPE_MIN), '#92CDDC', 3.5));
slopeSets.push(plainLine('Green', limitLines(greenLimit), '#2BF52B', 4));
slopeSets.push(plainLine('Amber', limitLines(amberLimit), '#FFC000', 4));
slopeSets.push(plainLine('Red', limitLines(redLimit), '#FF0000', 3));
new Chart(document.getElementById('cSlope'), {
  type: 'line',
  data: { datasets: withOrder(slopeSets) },
  options: Object.assign({}, baseOpts, {
    layout: { padding: { left: 0, right: 64, top: 27, bottom: 0 } },
    scales: {
      x: xAxis(190, 20.5, 21, false),
      y: { min: SLOPE_MIN, max: SLOPE_MAX, afterFit(s) { s.width = 121; },
           ticks: { stepSize: 0.5, padding: 14, font: { size: 20 }, color: '#000', callback: v => String(v) },
           grid: { color: GRID, lineWidth: 1.5, drawTicks: true, tickLength: 5.5 },
           border: { color: AXIS, width: 1.5 } }
    }
  }),
  plugins: [
    xTickMarks({minor: 1, majorUp: 0, majorDown: 8.5, minorUp: 0, minorDown: 0}),
    texts([
      { text: 'Dering Street West: PLP Slopes', x: 648, y: 60, font: 'bold 36px ' + FONT },
      { text: 'Slope (mm/m)', x: 56, y: 250, rot: -Math.PI / 2, font: 'bold 22.5px ' + FONT }
    ]),
    seriesLegend({ cols: [86, 315, 541, 768, 994], rows: [555, 597, 639], lineLen: 45, gap: 5,
                   markerScale: 0.72, font: '17px ' + FONT })
  ]
});

// ===================== watermark =====================
(function () {
  const c = document.getElementById('wm'), ctx = c.getContext('2d');
  const text = 'Learning Legacy Document';
  ctx.font = '100px ' + FONT;
  const size = 100 * 1625 / ctx.measureText(text).width;
  ctx.font = size + 'px ' + FONT;
  ctx.translate(643, 822); ctx.rotate(-45.5 * Math.PI / 180);
  ctx.fillStyle = 'rgba(160,160,160,0.38)'; ctx.textAlign = 'center'; ctx.textBaseline = 'middle';
  ctx.fillText(text, 0, 0);
})();
</script>
</body>
</html>
